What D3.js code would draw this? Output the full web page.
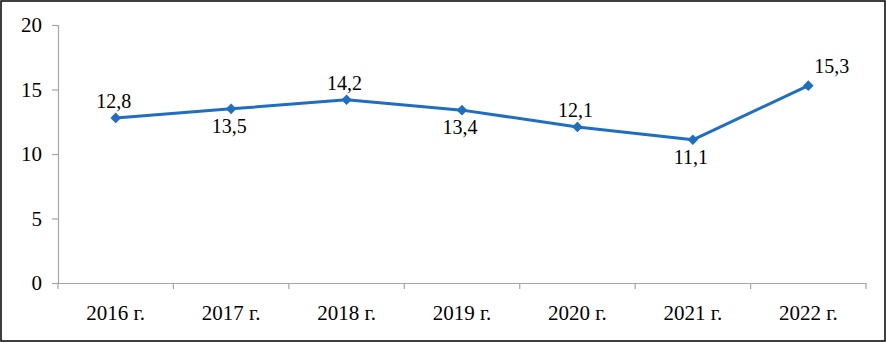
<!DOCTYPE html>
<html>
<head>
<meta charset="utf-8">
<script src="https://cdn.jsdelivr.net/npm/d3@7"></script>
</head>
<body style="margin:0">
<svg id="chart" width="886" height="342"></svg>
<script>
const categories = ["2016 г.","2017 г.","2018 г.","2019 г.","2020 г.","2021 г.","2022 г."];
const values = [12.8, 13.5, 14.2, 13.4, 12.1, 11.1, 15.3];
const labelPos = ["above","below","above","below","above","below","right"];
const yTicks = [0, 5, 10, 15, 20];

const FONT = "Liberation Serif";
const BASE = 24;             // font size used for glyph selection
const sAxis = 21 / BASE;     // effective 21px
const sLab = 20 / BASE;      // effective 20px
const W = 886, H = 342;
const m = {left:58, right:20, top:25, bottom:59};
const svg = d3.select("#chart");

svg.append("rect").attr("x",1).attr("y",1).attr("width",W-2).attr("height",H-2)
  .attr("fill","#fff").attr("stroke","#000").attr("stroke-width",1.5);

const x = d3.scaleBand().domain(categories).range([m.left, W-m.right]);
const y = d3.scaleLinear().domain([0,20]).range([H-m.bottom, m.top]);
const axisColor = "#a6a6a6";

// y axis
const yAxis = svg.append("g").attr("transform",`translate(${m.left},0)`)
  .call(d3.axisLeft(y).tickValues(yTicks).tickSize(6).tickPadding(10).tickFormat(d3.format("d")));
yAxis.attr("font-family",FONT).attr("font-size",BASE);
yAxis.select(".domain").attr("stroke",axisColor).attr("stroke-width",1.2);
yAxis.selectAll(".tick line").attr("stroke",axisColor).attr("stroke-width",1.2);
yAxis.selectAll("text").attr("font-family",FONT).attr("font-size",BASE).attr("fill","#000")
  .attr("x",-16/sAxis).attr("transform",`scale(${sAxis})`);

// x axis
const xAxis = svg.append("g").attr("transform",`translate(0,${H-m.bottom})`)
  .call(d3.axisBottom(x).tickSize(0).tickPadding(22));
xAxis.attr("font-family",FONT).attr("font-size",BASE);
xAxis.select(".domain").attr("stroke",axisColor).attr("stroke-width",1.2);
xAxis.selectAll("text").attr("font-family",FONT).attr("font-size",BASE).attr("fill","#000")
  .attr("y",22/sAxis).attr("transform",`scale(${sAxis})`);
// boundary ticks between categories
const bounds = categories.map(c => x(c)).concat([x(categories[categories.length-1]) + x.bandwidth()]);
svg.append("g").selectAll("line").data(bounds).join("line")
  .attr("x1",d=>d).attr("x2",d=>d)
  .attr("y1",H-m.bottom).attr("y2",H-m.bottom+6)
  .attr("stroke",axisColor).attr("stroke-width",1.2);

const cx = (d,i) => x(categories[i]) + x.bandwidth()/2;
const color = "#1f6ec2";

svg.append("path").datum(values)
  .attr("fill","none").attr("stroke",color).attr("stroke-width",3)
  .attr("stroke-linejoin","round")
  .attr("d", d3.line().x(cx).y(d=>y(d)));

svg.append("g").selectAll("path").data(values).join("path")
  .attr("d", d3.symbol().type(d3.symbolSquare).size(56))
  .attr("transform",(d,i)=>`translate(${cx(d,i)},${y(d)}) rotate(45)`)
  .attr("fill",color);

const fmt = v => d3.format(".1f")(v).replace(".",",");
svg.append("g").selectAll("g").data(values).join("g")
  .attr("transform",(d,i)=>{
    const lx = labelPos[i]==="right"?cx(d,i)+6:cx(d,i)-2;
    const ly = labelPos[i]==="above"?y(d)-10:labelPos[i]==="below"?y(d)+24:y(d)-13;
    return `translate(${lx},${ly}) scale(${sLab})`;
  })
  .append("text")
  .attr("font-family",FONT)
  .attr("font-size",BASE)
  .attr("fill","#000")
  .attr("text-anchor",(d,i)=>labelPos[i]==="right"?"start":"middle")
  .text(fmt);
</script>
</body>
</html>
